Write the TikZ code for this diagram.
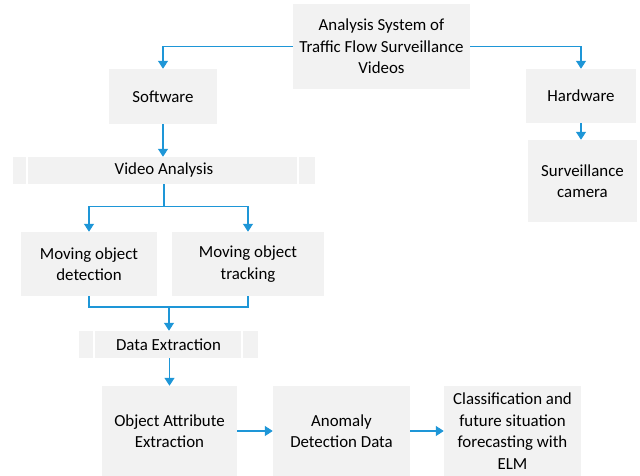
\documentclass[tikz,border=0pt]{standalone}
\usepackage{fontspec}
\setmainfont{Carlito}
\usetikzlibrary{arrows.meta,
                positioning
            }
\definecolor{linkblue}{RGB}{30,150,215}
\definecolor{boxgray}{RGB}{242,242,242}
\tikzset{
    box/.style={fill=boxgray, align=center, inner sep=0pt,
                font=\fontsize{12}{15.3}\selectfont},
    link/.style={draw=linkblue, line width=0.75pt,
                 -{Triangle[width=7pt,length=5.5pt]}},
    plainlink/.style={draw=linkblue, line width=0.75pt}
}

\begin{document}
\begin{tikzpicture}
            \useasboundingbox (0, 0) rectangle (16, -11.9);
            \node[box, minimum width=4.425cm, minimum height=2.125cm] (sys) at (9.5375, -1.1625) {Analysis System of\\Traffic Flow Surveillance\\Videos};
            \node[box, minimum width=2.7cm, minimum height=1.375cm] (sw) at (4.075, -2.4125) {Software};
            \node[box, minimum width=2.75cm, minimum height=1.35cm] (hw) at (14.525, -2.4) {Hardware};
            \node[box, minimum width=2.725cm, minimum height=2.05cm] (cam) at (14.5625, -4.525) {Surveillance\\camera};
            \node[box, minimum width=7.55cm, minimum height=0.675cm] (va) at (4.1, -4.2625) {Video Analysis};
            \node[box, minimum width=3.4cm, minimum height=1.6cm] (det) at (2.225, -6.6) {Moving object\\detection};
            \node[box, minimum width=3.8cm, minimum height=1.6cm] (trk) at (6.2, -6.6) {Moving object\\tracking};
            \node[box, minimum width=4.475cm, minimum height=0.675cm] (dex) at (4.2125, -8.6125) {Data Extraction};
            \node[box, minimum width=3.375cm, minimum height=2.25cm] (oae) at (4.2375, -10.775) {Object Attribute\\Extraction};
            \node[box, minimum width=3.425cm, minimum height=2.25cm] (add) at (8.5375, -10.775) {Anomaly\\Detection Data};
            \node[box, minimum width=3.425cm, minimum height=2.25cm] (elm) at (12.8125, -10.775) {Classification and\\future situation\\forecasting with\\ELM};
            % seams in the long bars
            \draw[white, line width=1pt] (0.675, -3.925) -- (0.675, -4.6);
            \draw[white, line width=1pt] (7.45, -3.925) -- (7.45, -4.6);
            \draw[white, line width=1pt] (2.35, -8.275) -- (2.35, -8.95);
            \draw[white, line width=1pt] (6.05, -8.275) -- (6.05, -8.95);
            % connectors
            \draw[link] (sys.west) -| (sw.north);
            \draw[link] (sys.east) -| (hw.north);
            \draw[link] (hw.south) -- (hw.south |- cam.north);
            \draw[link] (sw.south) -- (sw.south |- va.north);
            \draw[link] (va.south) -- ++(0, -0.55) -| (det.north);
            \draw[link] (va.south) -- ++(0, -0.55) -| (trk.north);
            \coordinate (merge) at (4.225, -7.675);
            \draw[plainlink] (det.south) |- (merge) -| (trk.south);
            \draw[link] (merge) -- (merge |- dex.north);
            \draw[link] (dex.south -| oae.north) -- (oae.north);
            \draw[link] (oae.east) -- (add.west);
            \draw[link] (add.east) -- (elm.west);
        \end{tikzpicture}
\end{document}
